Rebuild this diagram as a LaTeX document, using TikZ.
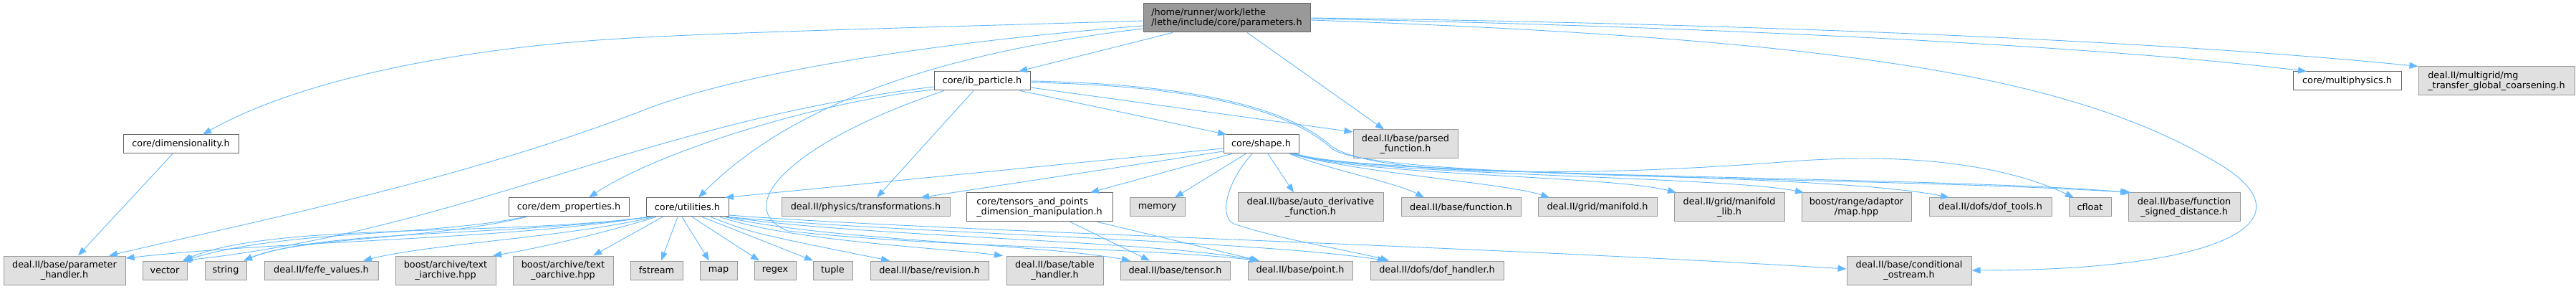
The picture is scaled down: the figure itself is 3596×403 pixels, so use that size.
\documentclass[tikz,border=0pt]{standalone}
\usepackage{fontspec}
\setmainfont{DejaVu Sans}
\usetikzlibrary{arrows.meta}
\definecolor{edgecol}{HTML}{63B8FF}
\definecolor{grayfill}{HTML}{E0E0E0}
\definecolor{grayline}{HTML}{999999}
\definecolor{darkline}{HTML}{666666}
\definecolor{topfill}{HTML}{999999}
\tikzset{
  box/.style={inner sep=0pt, line width=1pt, font=\fontsize{12.8}{14.3}\selectfont},
  wnode/.style={box, draw=darkline, fill=white, minimum height=26},
  gnode/.style={box, draw=grayline, fill=grayfill, minimum height=26},
  gnode2/.style={box, draw=grayline, fill=grayfill, minimum height=40, align=center},
  gnodeL/.style={box, draw=grayline, fill=grayfill, minimum height=40, align=left},
  e/.style={draw=edgecol, line width=0.9pt, -{Triangle[length=12pt,width=9pt]}}
}
\begin{document}
\begin{tikzpicture}[x=1pt,y=-1pt]
\useasboundingbox (0,0) rectangle (3596,403);
% row 0
\node[box, draw=darkline, fill=topfill, minimum width=233, minimum height=40, align=left] (top) at (1712.5,25) {/home/runner/work/lethe\\/lethe/include/core/parameters.h};
% row 1
\node[wnode, minimum width=134] (ib) at (1371,113) {core/ib\_particle.h};
\node[wnode, minimum width=151] (mp) at (3276.5,113) {core/multiphysics.h};
\node[gnodeL, minimum width=218] (mg) at (3485,113) {deal.II/multigrid/mg\\\_transfer\_global\_coarsening.h};
% row 2
\node[wnode, minimum width=161] (dim) at (252.5,201) {core/dimensionality.h};
\node[wnode, minimum width=105] (shape) at (1760.5,201) {core/shape.h};
\node[gnode2, minimum width=146] (parsed) at (1962,201) {deal.II/base/parsed\\\_function.h};
% row 3
\node[wnode, minimum width=168] (dem) at (794,289) {core/dem\_properties.h};
\node[wnode, minimum width=115] (ut) at (959.5,289) {core/utilities.h};
\node[gnode, minimum width=235] (tr) at (1208.5,289) {deal.II/physics/transformations.h};
\node[box, draw=darkline, fill=white, minimum width=204, minimum height=40, align=left] (tp) at (1451,289) {core/tensors\_and\_points\\\_dimension\_manipulation.h};
\node[gnode, minimum width=77] (mem) at (1615.5,289) {memory};
\node[gnode2, minimum width=203] (ad) at (1829.5,289) {deal.II/base/auto\_derivative\\\_function.h};
\node[gnode, minimum width=167] (fn) at (2039.5,289) {deal.II/base/function.h};
\node[gnode, minimum width=166] (mf) at (2230,289) {deal.II/grid/manifold.h};
\node[gnode2, minimum width=154] (mfl) at (2414,289) {deal.II/grid/manifold\\\_lib.h};
\node[gnode2, minimum width=153] (map) at (2591.5,289) {boost/range/adaptor\\/map.hpp};
\node[gnode, minimum width=171] (dt) at (2778.5,289) {deal.II/dofs/dof\_tools.h};
\node[gnode, minimum width=59] (cf) at (2917.5,289) {cfloat};
\node[gnode2, minimum width=156] (fsd) at (3049,289) {deal.II/base/function\\\_signed\_distance.h};
% row 4
\node[gnode2, minimum width=170] (ph) at (90,377) {deal.II/base/parameter\\\_handler.h};
\node[gnode, minimum width=62] (vec) at (230,377) {vector};
\node[gnode, minimum width=58] (str) at (315,377) {string};
\node[gnode, minimum width=159] (fe) at (448.5,377) {deal.II/fe/fe\_values.h};
\node[gnode2, minimum width=140] (ia) at (622,377) {boost/archive/text\\\_iarchive.hpp};
\node[gnode2, minimum width=140] (oa) at (786,377) {boost/archive/text\\\_oarchive.hpp};
\node[gnode, minimum width=73] (fs) at (916.5,377) {fstream};
\node[gnode, minimum width=52] (mp2) at (1003,377) {map};
\node[gnode, minimum width=58] (rx) at (1082,377) {regex};
\node[gnode, minimum width=55] (tu) at (1162.5,377) {tuple};
\node[gnode, minimum width=165] (rev) at (1297.5,377) {deal.II/base/revision.h};
\node[gnode2, minimum width=135] (tab) at (1472.5,377) {deal.II/base/table\\\_handler.h};
\node[gnode, minimum width=153] (ten) at (1640.5,377) {deal.II/base/tensor.h};
\node[gnode, minimum width=146] (pt) at (1815,377) {deal.II/base/point.h};
\node[gnode, minimum width=186] (dofh) at (2006,377) {deal.II/dofs/dof\_handler.h};
\node[gnode2, minimum width=174] (cond) at (2665,377) {deal.II/base/conditional\\\_ostream.h};

% edges from top
\draw[e] (top.west |- 0,29) .. controls (1300,38) and (1050,44) .. (900,52) .. controls (650,64) and (420,110) .. (dim.north -| 283,0);
\draw[e] (top.west |- 0,36) .. controls (1350,55) and (1050,95) .. (900,153) .. controls (650,250) and (350,310) .. (ph.north -| 152,0);
\draw[e] (top.west |- 0,40) .. controls (1300,75) and (1100,150) .. (ut.north -| 975,0);
\draw[e] (top.south -| 1637,0) -- (ib.north -| 1422,0);
\draw[e] (top.south -| 1741,0) -- (parsed.north -| 1932,0);
\draw[e] (top.east |- 0,26) .. controls (2300,35) and (2900,60) .. (mp.north -| 3220,0);
\draw[e] (top.east |- 0,25) .. controls (2400,32) and (3000,55) .. (mg.north west);
\draw[e] (top.east |- 0,28) .. controls (2600,55) and (2900,110) .. (3100,230) .. controls (3230,310) and (3100,377) .. (cond.east);
% dimensionality
\draw[e] (dim.south -| 241,0) -- (ph.north -| 109,0);
% ib_particle
\draw[e] (ib.south -| 1424,0) -- (shape.north -| 1712,0);
\draw[e] (ib.east |- 0,122) -- (parsed.west |- 0,184);
\draw[e] (ib.south -| 1359,0) -- (tr.north -| 1224,0);
\draw[e] (ib.west |- 0,121) .. controls (900,170) and (650,320) .. (vec.north -| 255,0);
\draw[e] (ib.west |- 0,125) .. controls (1150,140) and (920,210) .. (dem.north -| 822,0);
\draw[e] (ib.south -| 1318,0) .. controls (1100,200) and (1020,290) .. (1100,322) .. controls (1300,345) and (1600,345) .. (pt.north -| 1756,0);
\draw[e] (ib.east |- 0,113) .. controls (1700,118) and (1810,160) .. (1860,205) .. controls (1930,250) and (2250,245) .. (2500,225) .. controls (2700,210) and (2820,240) .. (cf.north -| 2895,0);
\draw[e] (ib.east |- 0,115) .. controls (1700,120) and (1810,162) .. (1860,208) .. controls (1930,252) and (2600,245) .. (fsd.north -| 2975,0);
% shape
\draw[e] (shape.west |- 0,207) -- (ut.north -| 1012,0);
\draw[e] (shape.west |- 0,211) -- (tr.north -| 1285,0);
\draw[e] (shape.south -| 1719,0) -- (tp.north -| 1522,0);
\draw[e] (shape.south -| 1739,0) -- (mem.north -| 1640,0);
\draw[e] (shape.south -| 1748,0) .. controls (1715,250) and (1700,300) .. (1722,312) .. controls (1790,335) and (1880,348) .. (dofh.north -| 1939,0);
\draw[e] (shape.south -| 1770,0) -- (ad.north -| 1806,0);
\draw[e] (shape.south -| 1800,0) .. controls (1850,235) and (1950,255) .. (fn.north -| 1988,0);
\draw[e] (shape.south -| 1802,0) .. controls (1900,242) and (2100,255) .. (mf.north -| 2163,0);
\draw[e] (shape.south -| 1804,0) .. controls (1900,245) and (2250,245) .. (mfl.north -| 2340,0);
\draw[e] (shape.south -| 1806,0) .. controls (1900,245) and (2400,245) .. (map.north -| 2518,0);
\draw[e] (shape.south -| 1808,0) .. controls (1900,245) and (2550,240) .. (dt.north -| 2721,0);
\draw[e] (shape.south -| 1810,0) .. controls (1900,248) and (2700,245) .. (fsd.north -| 2972,0);
% utilities
\draw[e] (ut.south -| 905,0) .. controls (700,335) and (400,335) .. (ph.east |- 0,360);
\draw[e] (ut.south -| 906,0) .. controls (700,330) and (380,310) .. (vec.north -| 255,0);
\draw[e] (ut.south -| 908,0) .. controls (700,330) and (450,320) .. (str.north -| 340,0);
\draw[e] (ut.south -| 912,0) .. controls (800,330) and (600,340) .. (fe.north -| 507,0);
\draw[e] (ut.south -| 916,0) .. controls (860,320) and (760,345) .. (ia.north -| 688,0);
\draw[e] (ut.south -| 925,0) -- (oa.north -| 828,0);
\draw[e] (ut.south -| 946,0) -- (fs.north -| 923,0);
\draw[e] (ut.south -| 952,0) -- (mp2.north -| 990,0);
\draw[e] (ut.south -| 966,0) -- (rx.north -| 1060,0);
\draw[e] (ut.south -| 980,0) -- (tu.north -| 1135,0);
\draw[e] (ut.south -| 992,0) .. controls (1050,325) .. (rev.north -| 1242,0);
\draw[e] (ut.south -| 1005,0) .. controls (1100,335) and (1300,345) .. (tab.north -| 1400,0);
\draw[e] (ut.south -| 1012,0) .. controls (1150,335) and (1450,340) .. (ten.north -| 1578,0);
\draw[e] (ut.south -| 1015,0) .. controls (1200,330) and (1600,335) .. (pt.north -| 1758,0);
\draw[e] (ut.south east) .. controls (1250,325) and (1750,335) .. (dofh.north -| 1935,0);
\draw[e] (ut.east |- 0,300) .. controls (1300,322) and (2000,340) .. (cond.west |- 0,375);
% dem_properties
\draw[e] (dem.south -| 732,0) .. controls (600,330) and (400,320) .. (vec.north -| 257,0);
\draw[e] (dem.south -| 735,0) .. controls (600,335) and (420,330) .. (str.north -| 340,0);
% tensors_and_points
\draw[e] (tp.south -| 1494,0) -- (ten.north -| 1605,0);
\draw[e] (tp.south -| 1532,0) -- (pt.north -| 1758,0);
\end{tikzpicture}
\end{document}
